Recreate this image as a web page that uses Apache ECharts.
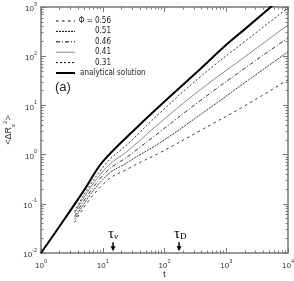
<!DOCTYPE html>
<html><head><meta charset="utf-8">
<script src="https://cdn.jsdelivr.net/npm/echarts@6/dist/echarts.min.js"></script>
<style>html,body{margin:0;padding:0;background:#fff}#c{width:294px;height:281px}</style>
</head><body><div id="c"></div>
<script>
// ---- data ----
const tSim = [3.5, 10, 28, 85, 380, 2000, 10000];
const phi056 = [0.042, 0.246, 0.545, 1.1, 3.07, 9.86, 33.2];
const phi051 = [0.048, 0.311, 0.755, 1.75, 6.48, 29, 123];
const phi046 = [0.055, 0.375, 1.0, 2.93, 12.5, 57, 236];
const phi041 = [0.064, 0.452, 1.32, 4.46, 20.8, 97, 433];
const phi031 = [0.070, 0.545, 1.84, 7.1, 38, 200, 960];
const tTheory = [1, 2, 5, 10, 40, 100, 380, 1000, 2000, 10000];
const theory = [0.01, 0.035, 0.19, 0.72, 4.1, 12, 55, 170, 355, 2000];
const seriesNames = ['Φ = 0.56', '0.51', '0.46', '0.41', '0.31', 'analytical solution'];
const xTicks = [1, 10, 100, 1000, 10000];
const yTicks = [0.01, 0.1, 1, 10, 100, 1000];
const tauNu = 14.7, tauD = 172;

function minorVals(lo, hi) {
  const out = [];
  for (let d = lo; d < hi; d++) for (let m = 2; m <= 9; m++) out.push(+(m * Math.pow(10, d)).toPrecision(3));
  return out;
}
const pairs = (xs, ys) => xs.map((x, i) => [x, ys[i]]);
const supLabel = v => '{b|10}{s|' + Math.round(Math.log10(v)) + '}';
const FONT = "'Liberation Sans', Arial, sans-serif";
const NARROW = "'Liberation Sans Narrow', 'DejaVu Sans Condensed', sans-serif";
const AX = '#777';
const labelRich = {
  b: { fontSize: 8, fontFamily: FONT, color: '#333', lineHeight: 12, verticalAlign: 'bottom' },
  s: { fontSize: 5.5, fontFamily: FONT, color: '#333', lineHeight: 12, verticalAlign: 'top' }
};

function xAx(pos, minor, labels) {
  return {
    type: 'log', logBase: 10, min: 1, max: 10000, interval: 1, position: pos,
    axisLine: { show: !minor, lineStyle: { color: AX, width: 1.5 } },
    axisTick: minor ? { show: true, inside: true, length: 2.5, customValues: minorVals(0, 4), lineStyle: { color: AX, width: 1 } }
                    : { show: true, inside: true, length: 5, customValues: xTicks, lineStyle: { color: AX, width: 1 } },
    axisLabel: labels ? { show: true, customValues: xTicks, formatter: supLabel, rich: labelRich, margin: 5 } : { show: false },
    splitLine: { show: false },
    name: labels ? 't' : '', nameLocation: 'middle', nameGap: 16, nameMoveOverlap: false,
    nameTextStyle: { fontFamily: "'Liberation Serif', serif", fontSize: 11, color: '#333' }
  };
}
function yAx(pos, minor, labels) {
  return {
    type: 'log', logBase: 10, min: 0.01, max: 1000, interval: 1, position: pos,
    axisLine: { show: !minor, lineStyle: { color: AX, width: 1.5 } },
    axisTick: minor ? { show: true, inside: true, length: 2.5, customValues: minorVals(-2, 3), lineStyle: { color: AX, width: 1 } }
                    : { show: true, inside: true, length: 5, customValues: yTicks, lineStyle: { color: AX, width: 1 } },
    axisLabel: labels ? { show: true, customValues: yTicks, formatter: supLabel, rich: labelRich, margin: 4 } : { show: false },
    splitLine: { show: false },
    name: labels ? '<ΔR{z|z}{t|2}>' : '', nameLocation: 'middle', nameGap: 25, nameRotate: 90, nameMoveOverlap: false,
    nameTextStyle: { fontFamily: FONT, fontSize: 9, color: '#333',
      rich: { z: { fontSize: 6, verticalAlign: 'bottom', lineHeight: 14 }, t: { fontSize: 6, verticalAlign: 'top', lineHeight: 14 } } }
  };
}

function sim(name, ys, style) {
  return { name, type: 'line', data: pairs(tSim, ys), symbol: 'none', smooth: 0.5,
           lineStyle: Object.assign({ color: '#000', width: 0.8 }, style), itemStyle: { color: style.color || '#000' } };
}

const chart = echarts.init(document.getElementById('c'), null, { renderer: 'canvas' });
chart.setOption({
  animation: false,
  backgroundColor: '#fff',
  grid: { left: 41, right: 6, top: 7, bottom: 28, containLabel: false, outerBoundsMode: 'none' },
  xAxis: [xAx('bottom', false, true), xAx('bottom', true, false), xAx('top', false, false), xAx('top', true, false)],
  yAxis: [yAx('left', false, true), yAx('left', true, false), yAx('right', false, false), yAx('right', true, false)],
  legend: {
    data: seriesNames.map((n, i) => ({ name: n, lineStyle: { width: i === 5 ? 2 : 1 } })),
    orient: 'vertical', left: 50, top: 12, itemWidth: 19, itemHeight: 10, itemGap: 2.4,
    itemStyle: { color: 'rgba(0,0,0,0)', borderWidth: 0, opacity: 0 },
    textStyle: { fontSize: 8, fontFamily: NARROW, color: '#222',
      rich: { r: { width: 31, align: 'right', fontSize: 8, fontFamily: NARROW },
              l: { fontSize: 8, fontFamily: NARROW } } },
    formatter: n => n.indexOf('analytical') === 0 ? '{l|' + n + '}' : '{r|' + n + '}'
  },
  series: [
    sim(seriesNames[0], phi056, { type: [2.5, 3.5] }),
    sim(seriesNames[1], phi051, { type: [2, 1] }),
    sim(seriesNames[2], phi046, { type: [4, 2, 1, 2] }),
    sim(seriesNames[3], phi041, { color: '#888', width: 1 }),
    sim(seriesNames[4], phi031, { type: [2, 2] }),
    { name: seriesNames[5], type: 'line', data: pairs(tTheory, theory), symbol: 'none', smooth: 0.35,
      lineStyle: { color: '#000', width: 2 }, itemStyle: { color: '#000' } }
  ]
});

function arrowGraphic(t, sub) {
  const top = chart.convertToPixel({ xAxisIndex: 0, yAxisIndex: 0 }, [t, 0.0165]);
  const bot = chart.convertToPixel({ xAxisIndex: 0, yAxisIndex: 0 }, [t, 0.0108]);
  const x = top[0];
  return [
    { type: 'line', shape: { x1: x, y1: top[1], x2: x, y2: bot[1] - 4 }, style: { stroke: '#000', lineWidth: 1.5 } },
    { type: 'polygon', shape: { points: [[x - 2.5, bot[1] - 5], [x + 2.5, bot[1] - 5], [x, bot[1]]] }, style: { fill: '#000' } },
    { type: 'text', x: x - 5, y: top[1] - 15,
      style: { text: '{a|τ}{b|' + sub + '}', rich: {
        a: { fontFamily: "'Liberation Serif', serif", fontSize: 15, fill: '#000', verticalAlign: 'bottom', lineHeight: 14 },
        b: { fontFamily: "'Liberation Serif', serif", fontSize: 9, fill: '#000', verticalAlign: 'bottom', lineHeight: 12 } } } }
  ];
}
chart.setOption({
  graphic: [].concat(
    arrowGraphic(tauNu, 'ν'),
    arrowGraphic(tauD, 'D'),
    [{ type: 'text', left: 55, top: 81, style: { text: '(a)', fontFamily: FONT, fontSize: 13, fill: '#222' } }]
  )
});
</script></body></html>
